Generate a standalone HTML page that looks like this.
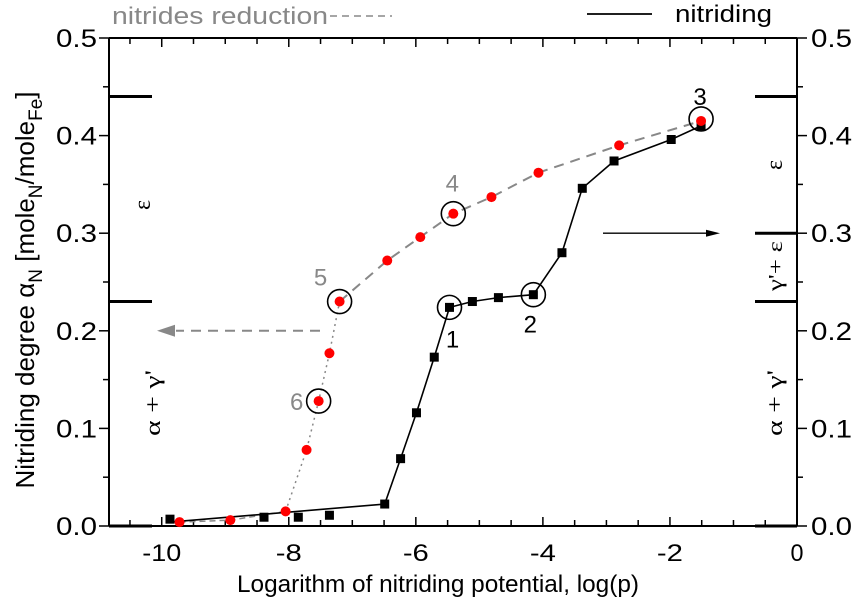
<!DOCTYPE html>
<html><head><meta charset="utf-8"><style>
html,body{margin:0;padding:0;background:#fff;}
svg{display:block;font-family:"Liberation Sans",sans-serif;}
</style></head><body>
<svg id="chart" width="859" height="607" viewBox="0 0 859 607" xmlns="http://www.w3.org/2000/svg"></svg>
<script>
const xTicks = [-10, -8, -6, -4, -2, 0];
const yTicks = [0.0, 0.1, 0.2, 0.3, 0.4, 0.5];
const yTickLabels = ["0.0", "0.1", "0.2", "0.3", "0.4", "0.5"];
const nitridingX = [-9.87, -8.39, -7.85, -7.36, -6.49, -6.24, -5.99, -5.71, -5.47, -5.11, -4.70, -4.15, -3.70, -3.38, -2.88, -1.98, -1.51];
const nitridingY = [0.007, 0.009, 0.009, 0.011, 0.0225, 0.069, 0.116, 0.173, 0.224, 0.230, 0.234, 0.237, 0.280, 0.346, 0.374, 0.396, 0.410];
const reductionX = [-9.72, -8.92, -8.05, -7.72, -7.53, -7.36, -7.20, -6.45, -5.93, -5.41, -4.81, -4.07, -2.80, -1.51];
const reductionY = [0.004, 0.006, 0.015, 0.078, 0.128, 0.177, 0.230, 0.272, 0.296, 0.320, 0.337, 0.362, 0.390, 0.415];

const L=109, R=797, T=38, B=526;
const X0=-10.83, X1=0, Y0=0, Y1=0.5;
const sx = v => L + (v - X0) / (X1 - X0) * (R - L);
const sy = v => B - (v - Y0) / (Y1 - Y0) * (B - T);
const svg = document.getElementById('chart');
const NS='http://www.w3.org/2000/svg';
function mk(tag, attrs, parent){const e=document.createElementNS(NS,tag);for(const k in attrs)e.setAttribute(k,attrs[k]);(parent||svg).appendChild(e);return e;}
function txt(x,y,s,attrs){const e=mk('text',Object.assign({x:x,y:y},attrs||{}));e.textContent=s;return e;}

let a;
a=mk('line',{x1:L,y1:B,x2:R,y2:B,stroke:'#000','stroke-width':2});


a=mk('line',{x1:L,y1:T,x2:R,y2:T,stroke:'#000','stroke-width':2});


a=mk('line',{x1:L,y1:T,x2:L,y2:B,stroke:'#000','stroke-width':2});


a=mk('line',{x1:R,y1:T,x2:R,y2:B,stroke:'#000','stroke-width':2});



for(let v=-10.5; v<=0.001; v+=0.5){
  const major = Math.abs(v - Math.round(v))<1e-6 && Math.round(v)%2===0;
  const x=sx(v), len = major?9:6;
  mk('line',{x1:x,y1:B,x2:x,y2:B-len,stroke:'#000','stroke-width':1.5});
  mk('line',{x1:x,y1:T,x2:x,y2:T+len,stroke:'#000','stroke-width':1.5});
}
xTicks.forEach(v=>{
  const s=String(v);
  const t=txt(sx(v),561,s,{'text-anchor':'middle','font-size':24,textLength:s.length*13,lengthAdjust:'spacingAndGlyphs'});
  
  
});
for(let v=0; v<=0.5001; v+=0.05){
  const major = Math.abs(v*10 - Math.round(v*10))<1e-6;
  const y=sy(v), len = major?10:6;
  mk('line',{x1:L,y1:y,x2:L-len,y2:y,stroke:'#000','stroke-width':1.5});
  mk('line',{x1:R,y1:y,x2:R+len,y2:y,stroke:'#000','stroke-width':1.5});
}
yTicks.forEach((v,i)=>{
  let t=txt(L-12,sy(v)+9,yTickLabels[i],{'text-anchor':'end','font-size':25,textLength:41,lengthAdjust:'spacingAndGlyphs'});
  
  
  t=txt(R+14,sy(v)+9,yTickLabels[i],{'text-anchor':'start','font-size':25,textLength:41,lengthAdjust:'spacingAndGlyphs'});
  
  
});

[[0.44,L,L+43],[0.23,L,L+43],[0.0,L,L+43],[0.44,R-42,R],[0.30,R-42,R],[0.23,R-42,R],[0.0,R-42,R]].forEach(b=>{
  const e=mk('line',{x1:b[1],y1:sy(b[0]),x2:b[2],y2:sy(b[0]),stroke:'#000','stroke-width':3});
  
  
});
function phase(x,y,s,name,len,fs){const at={'text-anchor':'middle','font-size':fs||22,'font-family':'"Liberation Serif",serif',transform:`rotate(-90 ${x} ${y})`};if(len){at.textLength=len;at.lengthAdjust='spacingAndGlyphs';}const t=txt(x,y,s,at);}
phase(150,205,'ε','phase-label-epsilon-left',null,24);
phase(160,403,"α + γ'",'phase-label-alpha-gamma-left',66);
phase(782,165,'ε','phase-label-epsilon-right',null,24);
phase(782,266,"γ'+ ε",'phase-label-gamma-epsilon-right',50,20);
phase(782,403,"α + γ'",'phase-label-alpha-gamma-right',66);

const pr = reductionX.map((x,i)=>[sx(x),sy(reductionY[i])]);
let e=mk('polyline',{points:pr.slice(0,3).map(p=>p.join(',')).join(' '),fill:'none',stroke:'#888','stroke-width':1.5,'stroke-dasharray':'6,4'});


e=mk('polyline',{points:pr.slice(2,7).map(p=>p.join(',')).join(' '),fill:'none',stroke:'#888','stroke-width':1.5,'stroke-dasharray':'2,4'});


e=mk('polyline',{points:pr.slice(6).map(p=>p.join(',')).join(' '),fill:'none',stroke:'#888','stroke-width':2,'stroke-dasharray':'10,7'});



const pn = nitridingX.map((x,i)=>[sx(x),sy(nitridingY[i])]);
e=mk('polyline',{points:[[pn[0][0],sy(0.004)]].concat(pn.slice(4)).map(p=>p.join(',')).join(' '),fill:'none',stroke:'#000','stroke-width':1.6});



pn.forEach(p=>{
  const m=mk('rect',{x:p[0]-4.5,y:p[1]-4.5,width:9,height:9,fill:'#000'});
  
  
});
pr.forEach(p=>{
  const m=mk('circle',{cx:p[0],cy:p[1],r:5,fill:'#f00'});
  
  
});

function circ(px,py,label,lx,ly,color,name){
  const c=mk('circle',{cx:px,cy:py,r:12,fill:'none',stroke:'#000','stroke-width':1.6});
  
  
  const t=txt(lx,ly,label,{'text-anchor':'middle','font-size':24,fill:color});
  
  
}
circ(pn[8][0],pn[8][1],'1',pn[8][0]+3,pn[8][1]+40,'#000','point-1');
circ(pn[11][0],pn[11][1],'2',pn[11][0]-3,pn[11][1]+38,'#000','point-2');
circ(pr[13][0],pr[13][1]-2,'3',pr[13][0]-1,pr[13][1]-16,'#000','point-3');
circ(pr[9][0],pr[9][1],'4',pr[9][0]-1,pr[9][1]-22,'#888','point-4');
circ(pr[6][0],pr[6][1],'5',pr[6][0]-19,pr[6][1]-16,'#888','point-5');
circ(pr[4][0],pr[4][1],'6',pr[4][0]-22,pr[4][1]+9,'#888','point-6');

e=mk('line',{x1:320,y1:sy(0.2),x2:176,y2:sy(0.2),stroke:'#888','stroke-width':2,'stroke-dasharray':'10,7'});


e=mk('polygon',{points:`157,${sy(0.2)} 175,${sy(0.2)-6} 175,${sy(0.2)+6}`,fill:'#888'});


e=mk('line',{x1:603,y1:sy(0.3),x2:708,y2:sy(0.3),stroke:'#000','stroke-width':1.3});


e=mk('polygon',{points:`720,${sy(0.3)} 706,${sy(0.3)-3.5} 706,${sy(0.3)+3.5}`,fill:'#000'});



e=txt(112,24,'nitrides reduction',{'font-size':24,fill:'#888',textLength:216,lengthAdjust:'spacingAndGlyphs'});


e=mk('line',{x1:330,y1:16,x2:392,y2:16,stroke:'#888','stroke-width':1.5,'stroke-dasharray':'7,5'});


e=mk('line',{x1:587,y1:14,x2:652,y2:14,stroke:'#000','stroke-width':1.8});


e=txt(675,22,'nitriding',{'font-size':24,textLength:97,lengthAdjust:'spacingAndGlyphs'});



e=txt(438,592,'Logarithm of nitriding potential, log(p)',{'text-anchor':'middle','font-size':24,textLength:402,lengthAdjust:'spacingAndGlyphs'});


e=mk('text',{x:0,y:0,'text-anchor':'middle','font-size':26,transform:'translate(34,290) rotate(-90)'});
e.innerHTML='Nitriding degree α<tspan font-size="19" dy="8">N</tspan><tspan dy="-8"> [mole</tspan><tspan font-size="19" dy="8">N</tspan><tspan dy="-8">/mole</tspan><tspan font-size="19" dy="8">Fe</tspan><tspan dy="-8">]</tspan>';


</script>
</body></html>
